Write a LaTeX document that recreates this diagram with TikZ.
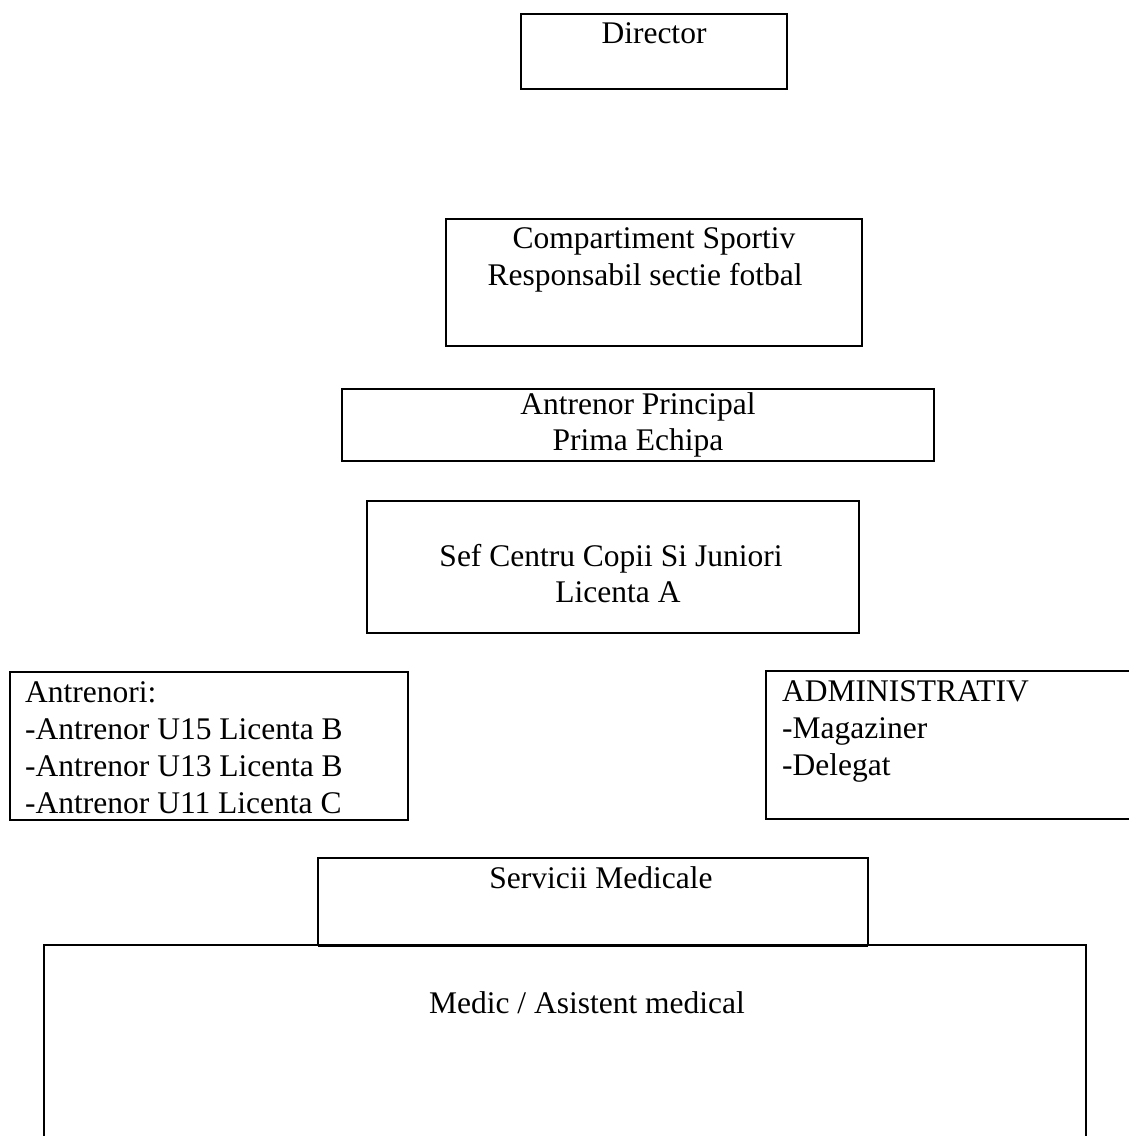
\documentclass[tikz,border=0pt]{standalone}
\usepackage{fontspec}
\setmainfont{Liberation Serif}
\begin{document}
\begin{tikzpicture}[x=1pt,y=-1pt,
  box/.style={draw=black,line width=2pt,inner sep=0pt,outer sep=0pt,anchor=north west},
  lbl/.style={inner sep=0pt,anchor=base,font=\fontsize{31.5}{37}\selectfont},
  lbll/.style={inner sep=0pt,anchor=base west,font=\fontsize{31.5}{37}\selectfont}]
\useasboundingbox (0,0) rectangle (1129,1136);
\clip (0,0) rectangle (1129,1136);
\fill[white] (0,0) rectangle (1129,1136);
% boxes
\node[box,minimum width=266pt,minimum height=75pt] (dir) at (521,14) {};
\node[box,minimum width=416pt,minimum height=127pt] (comp) at (446,219) {};
\node[box,minimum width=592pt,minimum height=72pt] (ap) at (342,389) {};
\node[box,minimum width=492pt,minimum height=132pt] (sef) at (367,501) {};
\node[box,minimum width=398pt,minimum height=148pt] (antr) at (10,672) {};
\node[box,minimum width=400pt,minimum height=148pt] (adm) at (766,671) {};
\node[box,minimum width=1042pt,minimum height=260pt] (med) at (44,945) {};
\node[box,minimum width=550pt,minimum height=87pt] (serv) at (318,858) {};
\draw[line width=3pt] (serv.south west) -- (serv.south east);
% texts
\node[lbl] (tdir) at (654,43) {Director};
\node[lbl] (tcomp1) at (654,248) {Compartiment Sportiv};
\node[lbl] (tcomp2) at (645,285) {Responsabil sectie fotbal};
\node[lbl] (tap1) at (638,414) {Antrenor Principal};
\node[lbl] (tap2) at (638,450) {Prima Echipa};
\node[lbl] (tsef1) at (611,566) {Sef Centru Copii Si Juniori};
\node[lbl] (tsef2) at (618,602) {Licenta A};
\node[lbll] (tan1) at (25,702) {Antrenori:};
\node[lbll] (tan2) at (25,739) {-Antrenor U15 Licenta B};
\node[lbll] (tan3) at (25,776) {-Antrenor U13 Licenta B};
\node[lbll] (tan4) at (25,813) {-Antrenor U11 Licenta C};
\node[lbll] (tad1) at (782,701) {ADMINISTRATIV};
\node[lbll] (tad2) at (782,738) {-Magaziner};
\node[lbll] (tad3) at (782,775) {-Delegat};
\node[lbl] (tserv) at (601,888) {Servicii Medicale};
\node[lbl] (tmed) at (587,1013) {Medic / Asistent medical};
\end{tikzpicture}
\end{document}
